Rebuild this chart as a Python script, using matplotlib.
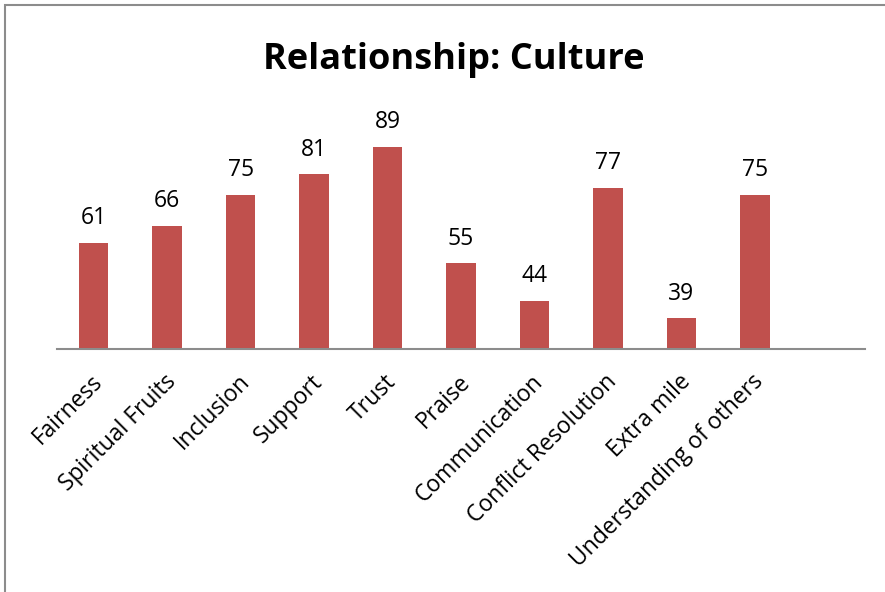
import matplotlib.pyplot as plt
import matplotlib.transforms as mtransforms
from matplotlib.patches import Rectangle

categories = ["Fairness", "Spiritual Fruits", "Inclusion", "Support", "Trust",
              "Praise", "Communication", "Conflict Resolution", "Extra mile",
              "Understanding of others"]
scores = [61, 66, 75, 81, 89, 55, 44, 77, 39, 75]

W, H = 885, 592
plt.rcParams['font.family'] = ['Open Sans', 'DejaVu Sans']

fig = plt.figure(figsize=(W / 100, H / 100), dpi=100)

# chart frame, partly running off the right and bottom edges
fig.patches.append(Rectangle((4.5 / W, -0.1), 1.2, 1.1 - 4.5 / H, transform=fig.transFigure,
                             fill=False, edgecolor='#8c8c8c', linewidth=1.5))

ax = fig.add_axes([57 / W, 1 - 349 / H, 808 / W, 240 / H])
x = list(range(len(categories)))
ax.bar(x, scores, width=0.4, color='#C0504D', edgecolor='none', zorder=2)
ax.set_xlim(-0.5, len(categories) + 0.5)
ax.set_ylim(30, 30 + 240 / 3.43)

for xi, v in zip(x, scores):
    ax.annotate(str(v), (xi, v), xytext=(0, 9), textcoords='offset points',
                ha='center', va='bottom', fontsize=16.5, color='black')

for s in ['top', 'right', 'left']:
    ax.spines[s].set_visible(False)
ax.spines['bottom'].set_color('#8c8c8c')
ax.spines['bottom'].set_linewidth(1.5)
ax.set_yticks([])
ax.set_xticks(x)
ax.set_xticklabels(categories, rotation=45, ha='right', va='top',
                   rotation_mode='anchor', fontsize=16.5)
ax.tick_params(axis='x', length=0, pad=15)
# nudge the slanted labels a little to the left
nudge = mtransforms.ScaledTranslation(-3 / 100, 0, fig.dpi_scale_trans)
for lbl in ax.get_xticklabels():
    lbl.set_transform(lbl.get_transform() + nudge)

fig.text(454 / W, 1 - 69 / H, "Relationship: Culture", ha='center', va='baseline',
         fontsize=26, fontweight='bold')

fig.savefig('out.png', dpi=100)
